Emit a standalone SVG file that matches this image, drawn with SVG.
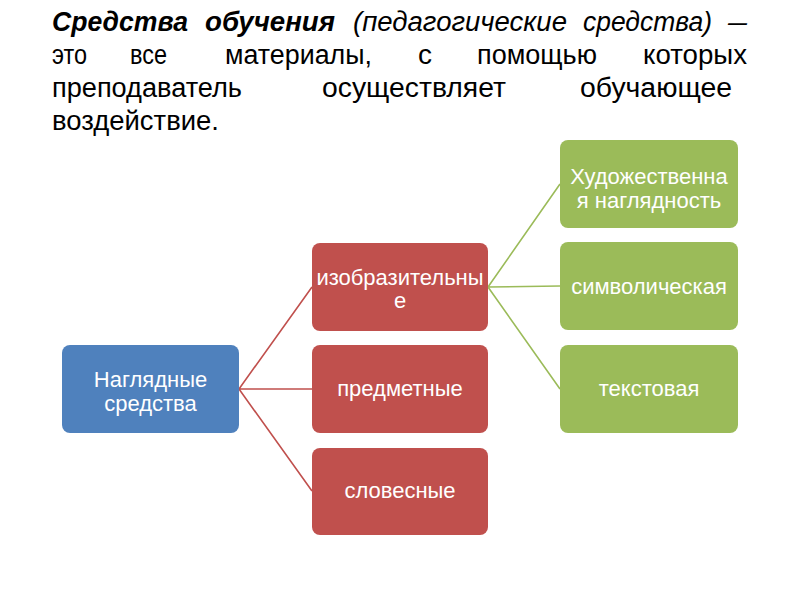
<svg xmlns="http://www.w3.org/2000/svg" width="800" height="600" viewBox="0 0 800 600">
<style>
.t{font-family:"Liberation Sans",Arial,sans-serif;font-size:27px;fill:#000}
.bi{font-weight:bold;font-style:italic}
.i{font-style:italic}
.n{font-family:"Liberation Sans",Arial,sans-serif;font-size:22px;fill:#fff;text-anchor:middle}
.blue{fill:#4F81BD}
.red{fill:#C0504D}
.green{fill:#9BBB59}
.lr{stroke:#C0504D;stroke-width:1.6;fill:none}
.lg{stroke:#9BBB59;stroke-width:1.6;fill:none}
</style>
<rect width="800" height="600" fill="#fff"/>
<g id="title">
<text class="t bi" x="52" y="31" textLength="136" lengthAdjust="spacingAndGlyphs">Средства</text>
<text class="t bi" x="205" y="31" textLength="130" lengthAdjust="spacingAndGlyphs">обучения</text>
<text class="t i" x="353" y="31" textLength="214" lengthAdjust="spacingAndGlyphs">(педагогические</text>
<text class="t i" x="583" y="31" textLength="129" lengthAdjust="spacingAndGlyphs">средства)</text>
<text class="t i" x="728" y="31" textLength="19" lengthAdjust="spacingAndGlyphs">–</text>
<text class="t" x="52" y="64" textLength="35" lengthAdjust="spacingAndGlyphs">это</text>
<text class="t" x="130" y="64" textLength="37" lengthAdjust="spacingAndGlyphs">все</text>
<text class="t" x="225" y="64" textLength="147" lengthAdjust="spacingAndGlyphs">материалы,</text>
<text class="t" x="418" y="64" textLength="14" lengthAdjust="spacingAndGlyphs">с</text>
<text class="t" x="477" y="64" textLength="120" lengthAdjust="spacingAndGlyphs">помощью</text>
<text class="t" x="643" y="64" textLength="104" lengthAdjust="spacingAndGlyphs">которых</text>
<text class="t" x="52" y="97" textLength="190" lengthAdjust="spacingAndGlyphs">преподаватель</text>
<text class="t" x="322" y="97" textLength="184" lengthAdjust="spacingAndGlyphs">осуществляет</text>
<text class="t" x="580" y="97" textLength="152" lengthAdjust="spacingAndGlyphs">обучающее</text>
<text class="t" x="52" y="130" textLength="167" lengthAdjust="spacingAndGlyphs">воздействие.</text>
</g>
<g id="connectors">
<path class="lr" d="M239,389 L312,287 M239,389 L312,389 M239,389 L312,491"/>
<path class="lg" d="M488,287 L560,184 M488,287 L560,286 M488,287 L560,389"/>
</g>
<g id="n-root"><rect class="blue" x="62" y="345" width="177" height="88" rx="8"/><text class="n"><tspan x="150.5" y="387">Наглядные</tspan><tspan x="150.5" y="411">средства</tspan></text></g>
<g id="n-izobr"><rect class="red" x="312" y="243" width="176" height="88" rx="8"/><text class="n"><tspan x="400" y="285">изобразительны</tspan><tspan x="400" y="308">е</tspan></text></g>
<g id="n-predm"><rect class="red" x="312" y="345" width="176" height="88" rx="8"/><text class="n" x="400" y="396">предметные</text></g>
<g id="n-slov"><rect class="red" x="312" y="448" width="176" height="87" rx="8"/><text class="n" x="400" y="498">словесные</text></g>
<g id="n-hud"><rect class="green" x="560" y="140" width="178" height="88" rx="8"/><text class="n"><tspan x="649" y="184">Художественна</tspan><tspan x="649" y="208">я наглядность</tspan></text></g>
<g id="n-simv"><rect class="green" x="560" y="242" width="178" height="88" rx="8"/><text class="n" x="649" y="294">символическая</text></g>
<g id="n-text"><rect class="green" x="560" y="345" width="178" height="88" rx="8"/><text class="n" x="649" y="396">текстовая</text></g>
</svg>
